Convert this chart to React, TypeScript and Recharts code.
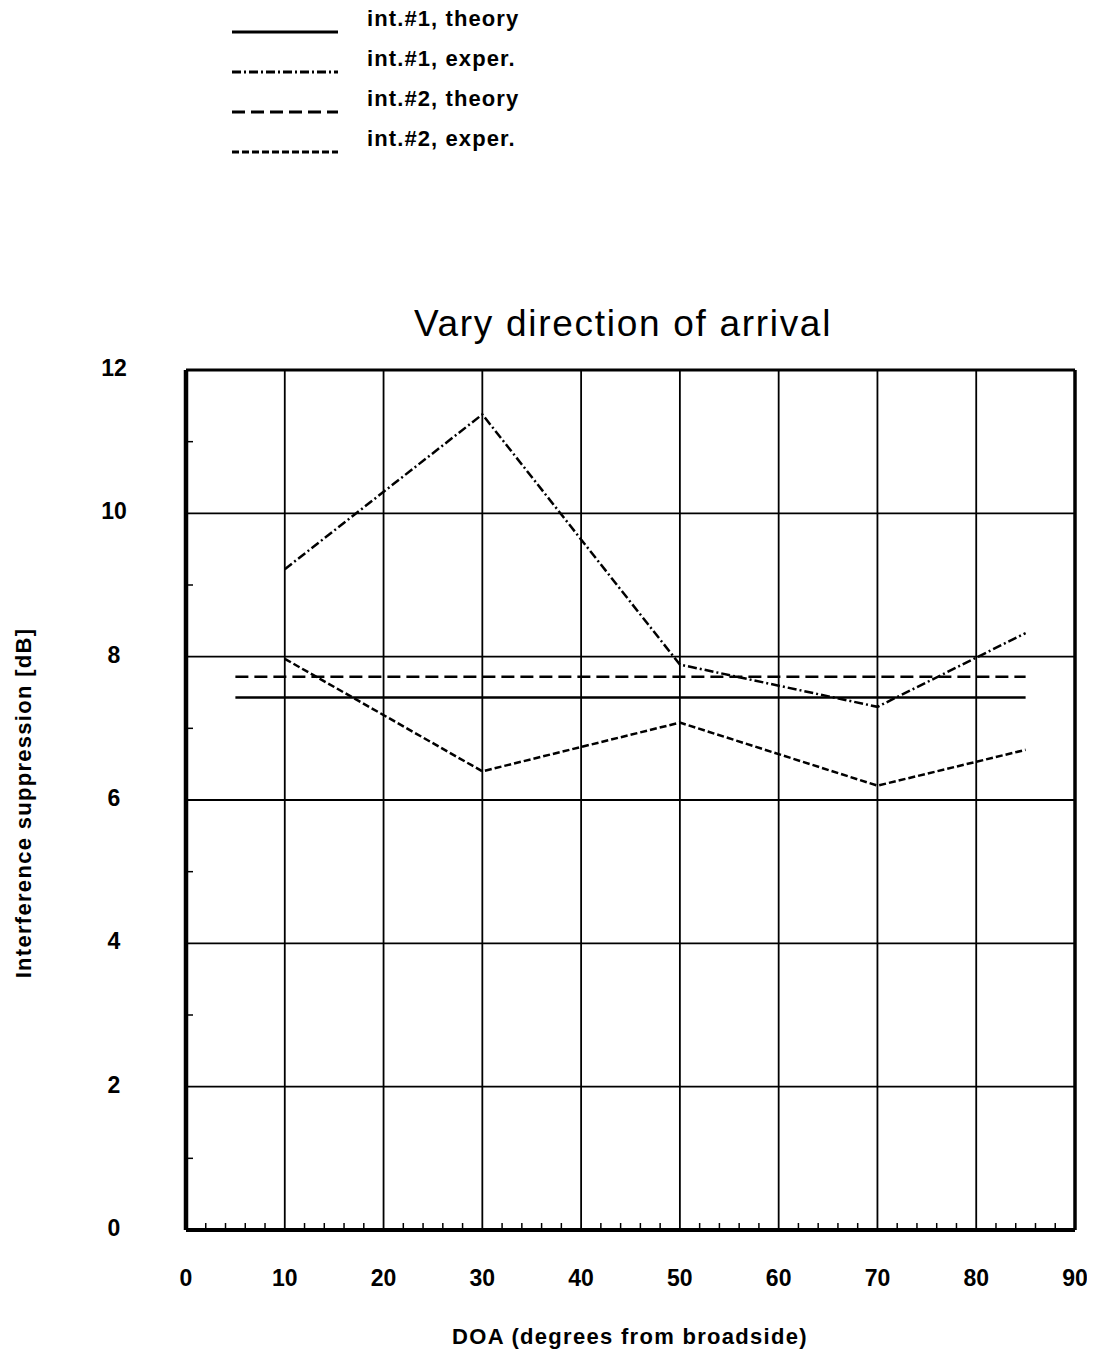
import { LineChart, Line, XAxis, YAxis, ReferenceLine } from "recharts"

// DOA values (degrees from broadside)
const doa = [5, 10, 30, 50, 70, 85]

// interference suppression [dB]
const int1Theory = [7.43, 7.43, 7.43, 7.43, 7.43, 7.43]
const int1Exper = [null, 9.22, 11.38, 7.89, 7.3, 8.33]
const int2Theory = [7.72, 7.72, 7.72, 7.72, 7.72, 7.72]
const int2Exper = [null, 7.97, 6.4, 7.08, 6.2, 6.7]

const xTicks = [0, 2, 4, 6, 8, 10, 12, 14, 16, 18, 20, 22, 24, 26, 28, 30, 32, 34, 36, 38, 40, 42, 44, 46, 48, 50, 52, 54, 56, 58, 60, 62, 64, 66, 68, 70, 72, 74, 76, 78, 80, 82, 84, 86, 88, 90]
const yTicks = [0, 1, 2, 3, 4, 5, 6, 7, 8, 9, 10, 11, 12]
const gridX = [10, 20, 30, 40, 50, 60, 70, 80]
const gridY = [2, 4, 6, 8, 10]

const rows = doa.map((x, i) => ({
  x,
  int1Theory: int1Theory[i],
  int1Exper: int1Exper[i],
  int2Theory: int2Theory[i],
  int2Exper: int2Exper[i],
}))

const series = [
  { key: "int1Theory", name: "int.#1, theory", dash: undefined, width: 2.5 },
  { key: "int1Exper", name: "int.#1, exper.", dash: "9 3 2 3", width: 2.5 },
  { key: "int2Theory", name: "int.#2, theory", dash: "13 6", width: 2.5 },
  { key: "int2Exper", name: "int.#2, exper.", dash: "7 3", width: 2.5 },
]

const font = "'Liberation Sans', Arial, Helvetica, sans-serif"

function XTick(props: any) {
  const { x, y, payload } = props
  const v = payload.value
  if (v % 10 === 0) {
    return (
      <text x={x} y={y + 50} textAnchor="middle" dominantBaseline="middle"
        fontFamily={font} fontWeight="bold" fontSize={23} fill="#000">
        {v}
      </text>
    )
  }
  return <line x1={x} x2={x} y1={y} y2={y - 7} stroke="#000" strokeWidth={1.5} />
}

function YTick(props: any) {
  const { x, y, payload } = props
  const v = payload.value
  if (v % 2 === 0) {
    return (
      <text x={x - 72} y={y} textAnchor="middle" dominantBaseline="middle"
        fontFamily={font} fontWeight="bold" fontSize={23} fill="#000">
        {v}
      </text>
    )
  }
  return <line x1={x} x2={x + 7} y1={y} y2={y} stroke="#000" strokeWidth={1.5} />
}

export default function App() {
  return (
    <div style={{ position: "relative", width: 1079, height: 1356, fontFamily: font, background: "#fff" }}>
      {/* LEGEND */}
      {series.map((s, i) => (
        <div key={s.key}>
          <svg style={{ position: "absolute", left: 224, top: 20 + i * 40 }} width={108} height={8}>
            <line x1={0} x2={106} y1={4} y2={4} stroke="#000" strokeWidth={3} strokeDasharray={s.dash} />
          </svg>
          <div style={{ position: "absolute", left: 359, top: i * 40 - 2, fontSize: 22, fontWeight: "bold", letterSpacing: 1.1, lineHeight: "26px" }}>
            {s.name}
          </div>
        </div>
      ))}

      {/* TITLE */}
      <div style={{ position: "absolute", left: 0, width: 1230, top: 294, textAlign: "center", fontSize: 37, letterSpacing: 1.7, lineHeight: "44px" }}>
        Vary direction of arrival
      </div>

      {/* Y LABEL */}
      <div style={{
        position: "absolute", left: 16, top: 795, width: 500, marginLeft: -250, marginTop: -13,
        textAlign: "center", fontSize: 22, fontWeight: "bold", letterSpacing: 1.3, lineHeight: "26px",
        transform: "rotate(-90deg)",
      }}>
        Interference suppression [dB]
      </div>

      {/* X LABEL */}
      <div style={{ position: "absolute", left: 0, width: 1244, top: 1315, textAlign: "center", fontSize: 22, fontWeight: "bold", letterSpacing: 1.3, lineHeight: "28px" }}>
        DOA (degrees from broadside)
      </div>

      <div style={{ position: "absolute", left: 0, top: 0 }}>
        <LineChart width={1079} height={1356} data={rows}
          margin={{ top: 362, right: 12, left: 118, bottom: 104 }}>
          <XAxis dataKey="x" type="number" domain={[0, 90]} ticks={xTicks} interval={0}
            tick={<XTick />} tickLine={false} axisLine={false} tickSize={0} tickMargin={0} height={30} />
          <YAxis type="number" domain={[0, 12]} ticks={yTicks} interval={0}
            tick={<YTick />} tickLine={false} axisLine={false} tickSize={0} tickMargin={0} width={60} />

          {/* GRID */}
          {gridX.map((v) => (
            <ReferenceLine key={"gx" + v} x={v} stroke="#000" strokeWidth={1.8} />
          ))}
          {gridY.map((v) => (
            <ReferenceLine key={"gy" + v} y={v} stroke="#000" strokeWidth={1.8} />
          ))}

          {series.map((s) => (
            <Line key={s.key} type="linear" dataKey={s.key} name={s.name}
              stroke="#000" strokeWidth={s.width} strokeDasharray={s.dash}
              dot={false} activeDot={false} connectNulls isAnimationActive={false} />
          ))}

          {/* FRAME */}
          <ReferenceLine y={0} stroke="#000" strokeWidth={4} />
          <ReferenceLine y={12} stroke="#000" strokeWidth={3} />
          <ReferenceLine x={0} stroke="#000" strokeWidth={4.5} />
          <ReferenceLine x={90} stroke="#000" strokeWidth={3.5} />
        </LineChart>
      </div>
    </div>
  )
}
